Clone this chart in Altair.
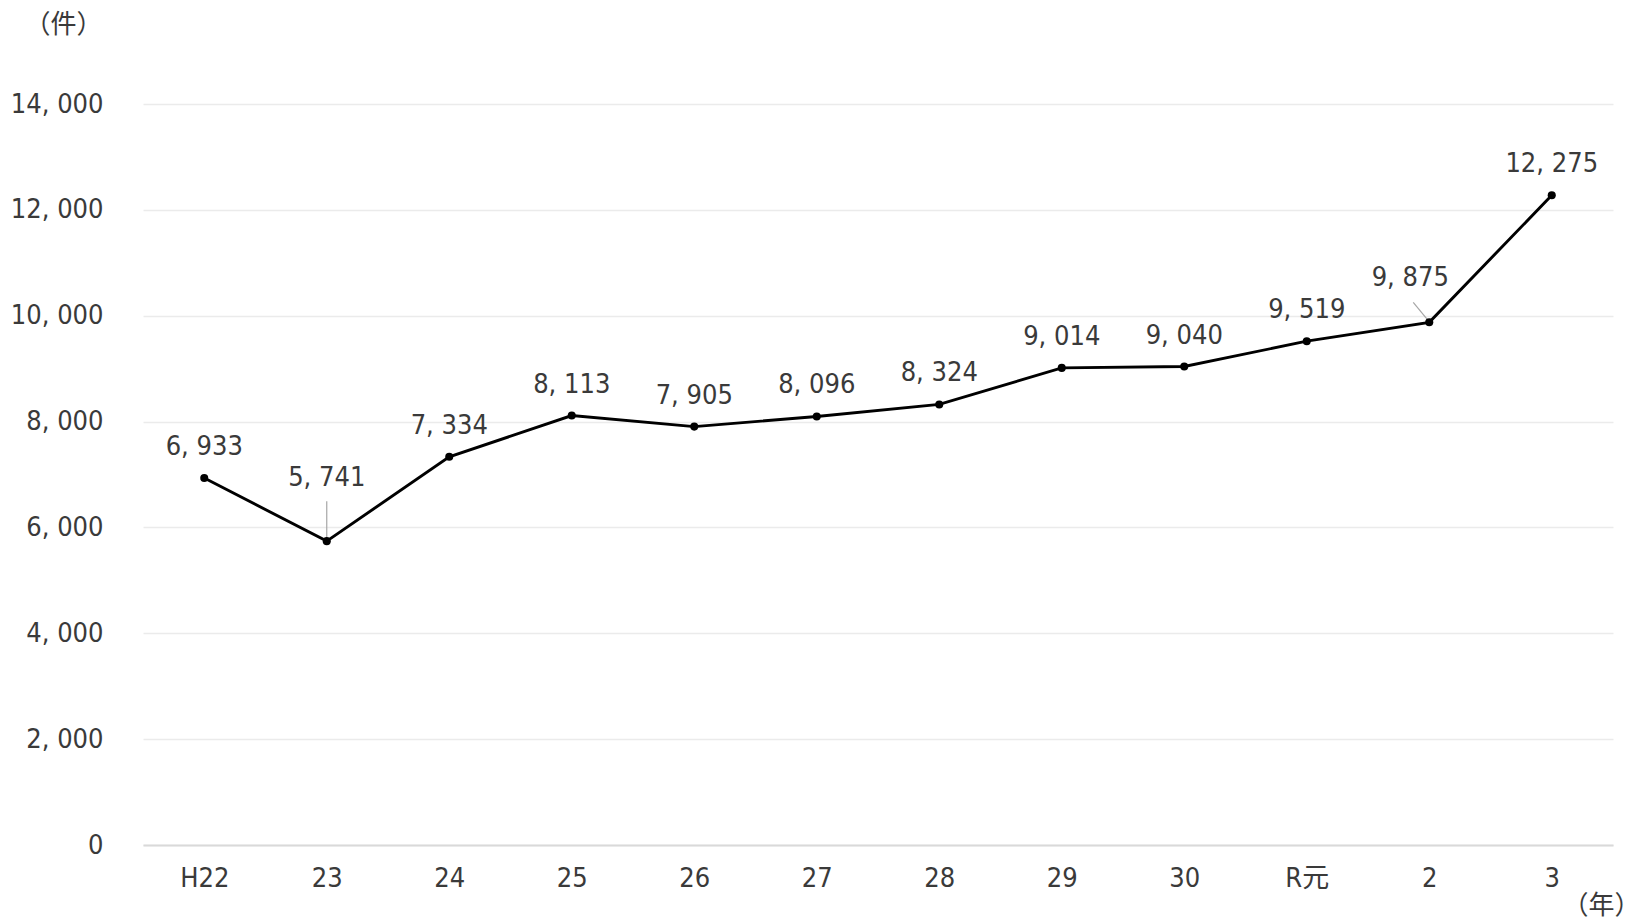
import altair as alt
import pandas as pd

# 年別件数
years = ["H22", "23", "24", "25", "26", "27", "28", "29", "30", "R元", "2", "3"]
counts = [6933, 5741, 7334, 8113, 7905, 8096, 8324, 9014, 9040, 9519, 9875, 12275]
y_ticks = [0, 2000, 4000, 6000, 8000, 10000, 12000, 14000]

FONT = "'DejaVu Sans Condensed', 'Roboto Condensed', 'Noto Sans CJK JP', sans-serif"
TEXT = "#3a3a3a"
FS = 27

df = pd.DataFrame({"year": years, "count": counts})
df["label"] = df["count"].map(lambda v: f"{v:,}".replace(",", ", "))

x_enc = alt.X(
    "year:N",
    sort=years,
    scale=alt.Scale(type="point", padding=0.5),
    axis=alt.Axis(
        title="（年）",
        titleX=1458,
        titleY=60,
        titleAlign="center",
        titleBaseline="middle",
        titleFont=FONT,
        titleFontSize=FS - 1,
        titleFontWeight="normal",
        titleColor=TEXT,
        labelAngle=0,
        labelFont=FONT,
        labelFontSize=FS,
        labelColor=TEXT,
        labelPadding=20,
        ticks=False,
        domainColor="#d9d9d9",
        domainWidth=2,
        grid=False,
    ),
)
y_enc = alt.Y(
    "count:Q",
    scale=alt.Scale(domain=[0, 14000], nice=False),
    axis=alt.Axis(
        values=y_ticks,
        labelExpr="replace(format(datum.value, ','), ',', ', ')",
        title="（件）",
        titleAngle=0,
        titleX=-80,
        titleY=-80,
        titleAlign="center",
        titleBaseline="middle",
        titleFont=FONT,
        titleFontSize=FS - 1,
        titleFontWeight="normal",
        titleColor=TEXT,
        labelFont=FONT,
        labelFontSize=FS,
        labelColor=TEXT,
        labelPadding=40,
        ticks=False,
        domain=False,
        gridColor="#ebebeb",
        gridWidth=1.5,
    ),
)

base = alt.Chart(df)

line = base.mark_line(color="black", strokeWidth=2.9).encode(x=x_enc, y=y_enc)
points = base.mark_point(filled=True, color="black", size=65, opacity=1).encode(
    x=x_enc, y=y_enc
)

normal = df[~df["year"].isin(["23", "2"])]
labels = (
    alt.Chart(normal)
    .mark_text(font=FONT, fontSize=FS, color=TEXT, dy=-31)
    .encode(x=x_enc, y=y_enc, text="label:N")
)

# 23年: ラベルを上にずらして引き出し線で結ぶ
low = df[df["year"] == "23"]
low_label = (
    alt.Chart(low)
    .mark_text(font=FONT, fontSize=FS, color=TEXT, dy=-63)
    .encode(x=x_enc, y=y_enc, text="label:N")
)
low_leader = (
    alt.Chart(low)
    .mark_rule(color="#a6a6a6", strokeWidth=1.2, yOffset=-40, y2Offset=-2)
    .encode(x=x_enc, y=y_enc, y2="count:Q")
)

# 2年: ラベルを左上にずらして引き出し線で結ぶ
r2 = df[df["year"] == "2"]
r2_label = (
    alt.Chart(r2)
    .mark_text(font=FONT, fontSize=FS, color=TEXT, dx=-19, dy=-44)
    .encode(x=x_enc, y=y_enc, text="label:N")
)
r2_leader = (
    alt.Chart(r2)
    .mark_rule(color="#a6a6a6", strokeWidth=1.2, xOffset=-16, yOffset=-20, x2Offset=-2, y2Offset=-3)
    .encode(x=x_enc, x2="year:N", y=y_enc, y2="count:Q")
)

chart = (
    alt.layer(line, low_leader, r2_leader, points, labels, low_label, r2_label)
    .properties(
        width=1470,
        height=741,
        autosize=alt.AutoSizeParams(type="none"),
        padding={"left": 143, "top": 104, "right": 31, "bottom": 77},
        background="white",
    )
    .configure_view(stroke=None)
)

chart.save("out.html", embed_options={"renderer": "svg", "actions": False})
